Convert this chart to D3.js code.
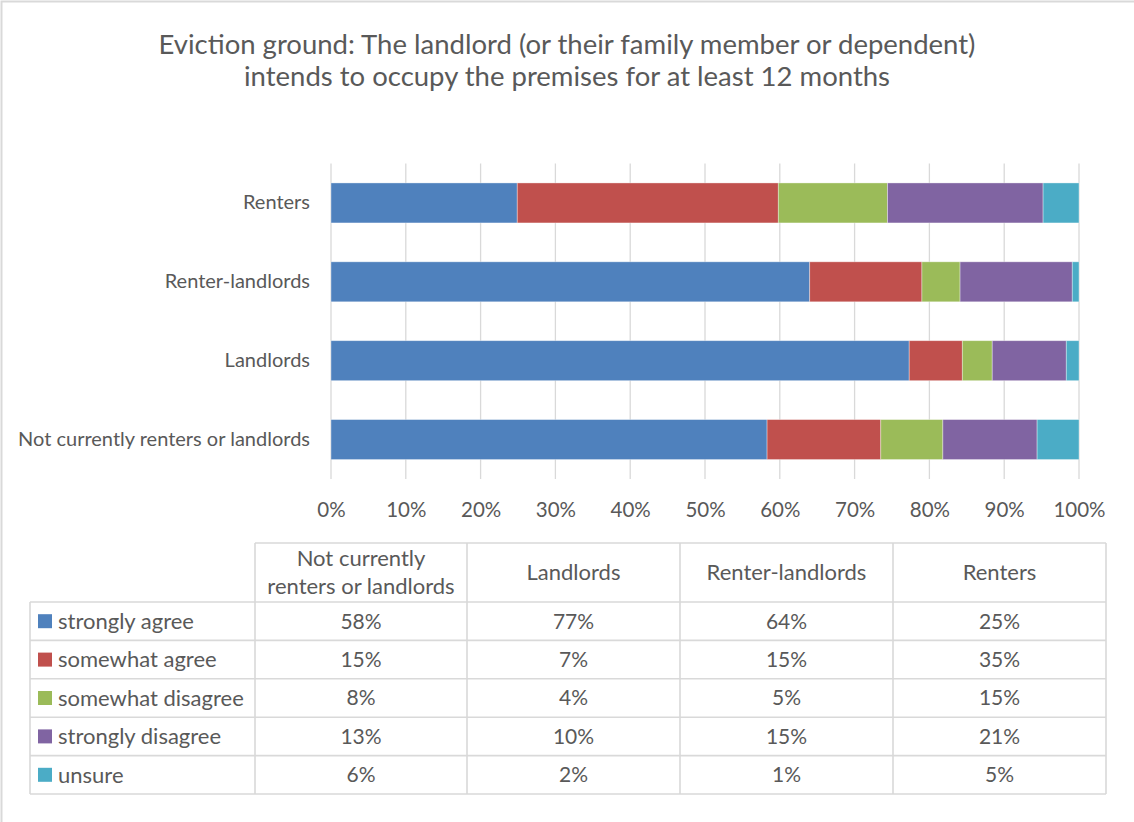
<!DOCTYPE html>
<html>
<head>
<meta charset="utf-8">
<script src="https://cdn.jsdelivr.net/npm/d3@7"></script>
<style>
  html, body { margin: 0; padding: 0; background: #fff; }
  svg { display: block; font-family: Lato, "Open Sans", sans-serif; }
</style>
</head>
<body>
<svg id="chart" width="1134" height="822"></svg>
<script>
// Respondent groups, in table-column order (bars are drawn bottom-up in this order)
const groups = ["Not currently renters or landlords", "Landlords", "Renter-landlords", "Renters"];
const groupHeaders = [["Not currently", "renters or landlords"], ["Landlords"], ["Renter-landlords"], ["Renters"]];

// Response options
const responses = ["strongly agree", "somewhat agree", "somewhat disagree", "strongly disagree", "unsure"];
const responseColors = ["#4F81BD", "#C0504D", "#9BBB59", "#8064A2", "#4BACC6"];

// Share of each group giving each response
const stronglyAgree    = [0.583, 0.773, 0.640, 0.249];
const somewhatAgree    = [0.152, 0.071, 0.150, 0.349];
const somewhatDisagree = [0.083, 0.040, 0.051, 0.146];
const stronglyDisagree = [0.126, 0.099, 0.150, 0.208];
const unsure           = [0.056, 0.017, 0.009, 0.048];
const seriesValues = [stronglyAgree, somewhatAgree, somewhatDisagree, stronglyDisagree, unsure];

const axisTicks = [0, 0.1, 0.2, 0.3, 0.4, 0.5, 0.6, 0.7, 0.8, 0.9, 1.0];

const titleLines = [
  "Eviction ground: The landlord (or their family member or dependent)",
  "intends to occupy the premises for at least 12 months"
];

const textColor = "#595959";
const lineColor = "#D9D9D9";
const pct = d3.format(".0%");

const svg = d3.select("#chart");

// Chart frame
svg.append("rect")
  .attr("x", 1.5).attr("y", 1.5)
  .attr("width", 1200).attr("height", 900)
  .attr("fill", "#fff")
  .attr("stroke", "#D9D9D9").attr("stroke-width", 2);

// Title
svg.append("text")
  .attr("x", 567).attr("y", 54)
  .attr("text-anchor", "middle")
  .attr("fill", textColor)
  .style("font-size", "27.5px")
  .selectAll("tspan")
  .data(titleLines)
  .join("tspan")
  .attr("x", 567)
  .attr("dy", (d, i) => i === 0 ? 0 : 32)
  .text(d => d);

// Scales
const x = d3.scaleLinear().domain([0, 1]).range([331, 1079]);
const y = d3.scaleBand()
  .domain(groups.slice().reverse())
  .range([163.5, 479])
  .paddingInner(0.493)
  .paddingOuter(0.2465);

// Vertical gridlines
svg.append("g")
  .selectAll("line")
  .data(axisTicks)
  .join("line")
  .attr("x1", d => x(d)).attr("x2", d => x(d))
  .attr("y1", 163.5).attr("y2", 479)
  .attr("stroke", lineColor).attr("stroke-width", 1.3);

// Stacked bars
const rows = groups.map((g, i) => {
  const r = { group: g };
  responses.forEach((s, j) => { r[s] = seriesValues[j][i]; });
  return r;
});
const stacked = d3.stack().keys(responses)(rows);
const color = d3.scaleOrdinal().domain(responses).range(responseColors);

svg.append("g")
  .selectAll("g")
  .data(stacked)
  .join("g")
  .attr("fill", d => color(d.key))
  .selectAll("rect")
  .data(d => d)
  .join("rect")
  .attr("x", d => x(d[0]))
  .attr("width", d => x(d[1]) - x(d[0]))
  .attr("y", d => y(d.data.group))
  .attr("height", y.bandwidth())
  .attr("stroke", "rgba(255,255,255,0.45)")
  .attr("stroke-width", 0.8);

// Value axis labels
const xAxis = svg.append("g")
  .attr("transform", "translate(0,494)")
  .call(d3.axisBottom(x).tickValues(axisTicks).tickFormat(d3.format(".0%")).tickSize(0).tickPadding(8));
xAxis.select(".domain").remove();
xAxis.selectAll("text")
  .attr("fill", textColor)
  .style("font-size", "20.5px")
  .style("font-family", "Lato, sans-serif");

// Category labels
const yAxis = svg.append("g")
  .attr("transform", "translate(310,0)")
  .call(d3.axisLeft(y).tickSize(0).tickPadding(0));
yAxis.select(".domain").remove();
yAxis.selectAll("text")
  .attr("fill", textColor)
  .style("font-size", "20px")
  .style("font-family", "Lato, sans-serif");

// Data table
const colEdges = [30, 255, 467, 680, 893, 1106];
const rowEdges = [543, 602, 640.4, 678.8, 717.2, 755.6, 794];
const tbl = svg.append("g").attr("stroke", lineColor).attr("stroke-width", 1.6);

// horizontal lines
rowEdges.forEach((ry, i) => {
  tbl.append("line")
    .attr("x1", i === 0 ? colEdges[1] : colEdges[0]).attr("x2", colEdges[5])
    .attr("y1", ry).attr("y2", ry);
});
// vertical lines
colEdges.forEach((cx, i) => {
  tbl.append("line")
    .attr("x1", cx).attr("x2", cx)
    .attr("y1", i === 0 ? rowEdges[1] : rowEdges[0]).attr("y2", rowEdges[6]);
});

const colCenter = i => (colEdges[i + 1] + colEdges[i + 2]) / 2;
const rowCenter = j => (rowEdges[j + 1] + rowEdges[j + 2]) / 2;

// Header cells
groupHeaders.forEach((lines, i) => {
  const t = svg.append("text")
    .attr("text-anchor", "middle")
    .attr("fill", textColor)
    .style("font-size", "22px");
  const mid = (rowEdges[0] + rowEdges[1]) / 2;
  const lh = 28;
  lines.forEach((ln, k) => {
    t.append("tspan")
      .attr("x", colCenter(i))
      .attr("y", mid + (k - (lines.length - 1) / 2) * lh)
      .attr("dy", "0.35em")
      .text(ln);
  });
});

// Legend column and values
responses.forEach((s, j) => {
  const cy = rowCenter(j);
  svg.append("rect")
    .attr("x", 38).attr("y", cy - 7)
    .attr("width", 14).attr("height", 14)
    .attr("fill", color(s));
  svg.append("text")
    .attr("x", 58).attr("y", cy).attr("dy", "0.35em")
    .attr("fill", textColor)
    .style("font-size", "22px")
    .text(s);
  groups.forEach((g, i) => {
    svg.append("text")
      .attr("x", colCenter(i)).attr("y", cy).attr("dy", "0.35em")
      .attr("text-anchor", "middle")
      .attr("fill", textColor)
      .style("font-size", "21px")
      .text(pct(seriesValues[j][i]));
  });
});
</script>
</body>
</html>
